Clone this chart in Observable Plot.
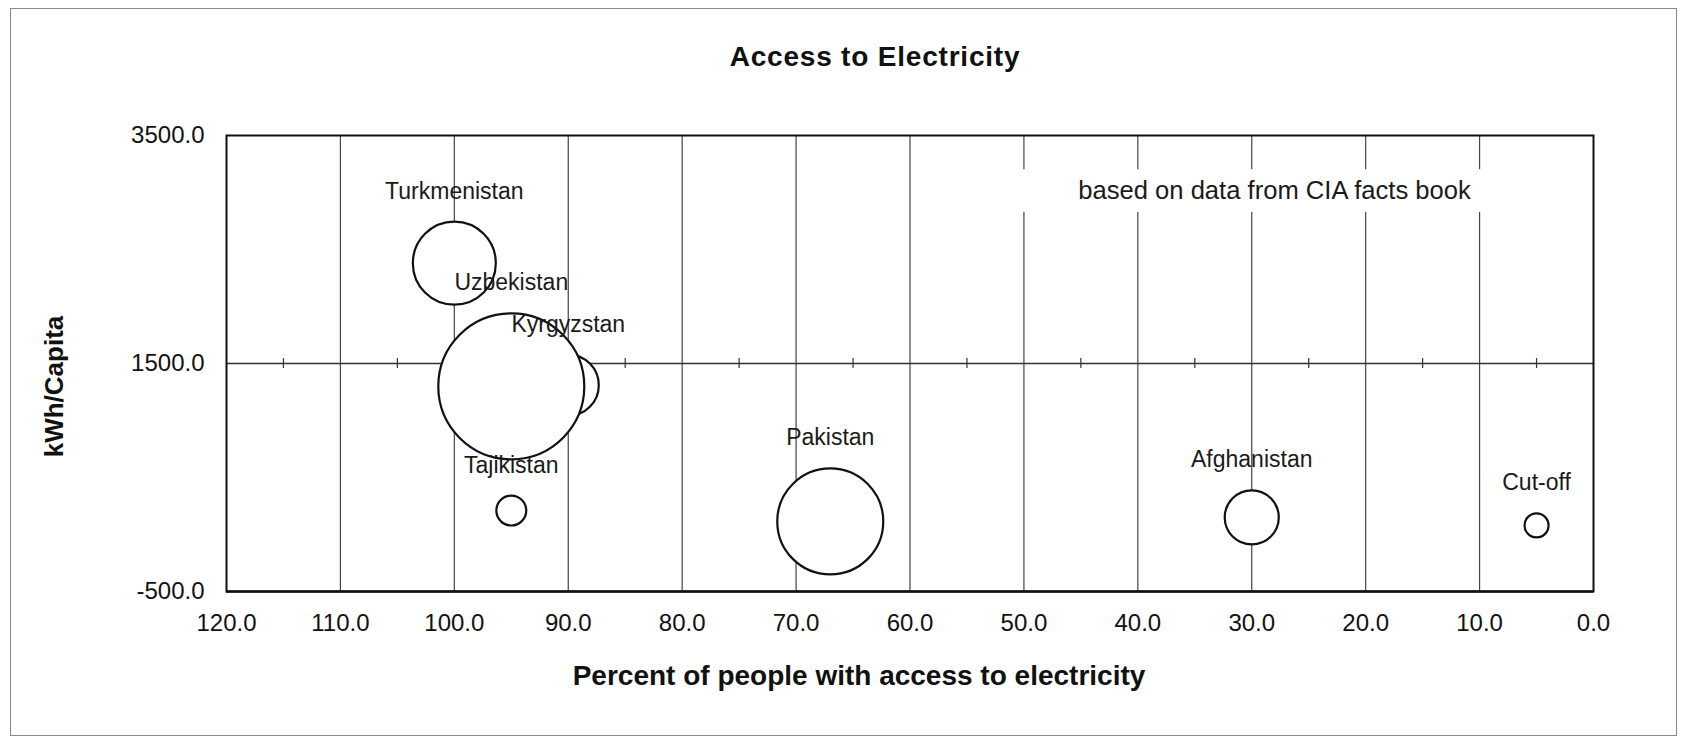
<!DOCTYPE html>
<html><head><meta charset="utf-8">
<script src="https://cdn.jsdelivr.net/npm/d3@7"></script>
<script src="https://cdn.jsdelivr.net/npm/@observablehq/plot@0.6"></script>
<style>
html,body{margin:0;padding:0;background:#fff;}
#wrap{position:relative;width:1690px;height:737px;overflow:hidden;font-family:"Liberation Sans",Arial,sans-serif;}
#title{height:100px;box-sizing:border-box;padding-top:43px;padding-left:60px;text-align:center;font-weight:bold;font-size:28px;line-height:28px;letter-spacing:0.8px;color:#111;}
#border{position:absolute;left:10px;top:8px;width:1665px;height:726px;border:1.5px solid #8a8a8a;pointer-events:none;}
</style></head><body>
<div id="wrap"><div id="title">Access to Electricity</div><div id="chart"></div><div id="border"></div></div>
<script>
// ---- data ----
const countries  = ["Turkmenistan", "Kyrgyzstan", "Uzbekistan", "Tajikistan", "Pakistan", "Afghanistan", "Cut-off"];
const access     = [100, 90, 95, 95, 67, 30, 5];          // % of people with access
const kwhPerCap  = [2380, 1310, 1300, 210, 115, 150, 80]; // kWh / capita
const bubbleSize = [32.3, 17.5, 100, 4.2, 52.7, 13.7, 2.7];

const xTicks = [120, 110, 100, 90, 80, 70, 60, 50, 40, 30, 20, 10, 0];
const yTicks = [-500, 1500, 3500];
const gridX  = [110, 100, 90, 80, 70, 60, 50, 40, 30, 20, 10];
const minorX = [115, 105, 95, 85, 75, 65, 55, 45, 35, 25, 15, 5];

const titleText = "Access to Electricity";
const xTitle = "Percent of people with access to electricity";
const yTitle = "kWh/Capita";
const note   = "based on data from CIA facts book";

const data = countries.map((name, i) => ({name, access: access[i], kwh: kwhPerCap[i], size: bubbleSize[i]}));
const rMax = 73;
const rFallback = d3.scaleSqrt().domain([0, d3.max(bubbleSize)]).range([0, rMax]);
const fmt = d => d.toFixed(1);

const chart = Plot.plot({
  width: 1690, height: 637,
  marginLeft: 226, marginRight: 97, marginTop: 35, marginBottom: 146,
  x: {domain: [120, 0]},
  y: {domain: [-500, 3500]},
  r: {type: "sqrt", domain: [0, d3.max(bubbleSize)], range: [0, rMax]},
  style: {fontFamily: "'Liberation Sans', Arial, sans-serif", color: "#111", background: "#fff", overflow: "visible"},
  marks: [
    Plot.ruleX(gridX, {stroke: "#444", strokeWidth: 1.2}),
    Plot.rect([0], {x1: 51.6, x2: 8.2, y1: 2826, y2: 3200, fill: "white"}),
    Plot.ruleY([1500], {stroke: "#333", strokeWidth: 1.3}),
    Plot.ruleX(minorX, {y1: 1500, y2: 1500, insetTop: -5, insetBottom: -5, stroke: "#333", strokeWidth: 1.2}),
    Plot.dot(data, {x: "access", y: "kwh", r: "size", fill: "white", stroke: "#111", strokeWidth: 2.2, sort: null}),
    Plot.text(data, {
      x: "access", y: "kwh", text: "name", fontSize: 23, fill: "#1a1a1a", lineAnchor: "bottom",
      render(index, scales, values, dimensions, context, next) {
        const rs = scales.r || rFallback;
        const Y = Float64Array.from(values.y, (v, i) => v - rs(bubbleSize[i]) - 23);
        return next(index, scales, {...values, y: Y}, dimensions, context);
      }
    }),
    Plot.text([note], {x: 28, y: 2945, text: d => d, fontSize: 25.6, fill: "#1a1a1a", lineAnchor: "bottom"}),
    Plot.frame({stroke: "#111", strokeWidth: 2}),
    Plot.ruleY([-500], {stroke: "#111", strokeWidth: 2.6}),
    Plot.axisX(xTicks, {tickFormat: fmt, tickSize: 0, tickPadding: 22, fontSize: 24, label: null}),
    Plot.axisY(yTicks, {tickFormat: fmt, tickSize: 0, tickPadding: 22, fontSize: 24, label: null}),
    Plot.text([xTitle], {frameAnchor: "bottom", text: d => d, dx: -51, dy: 85, fontSize: 28, fontWeight: "bold", textAnchor: "middle", lineAnchor: "middle"}),
    Plot.text([yTitle], {frameAnchor: "left", text: d => d, rotate: -90, dx: -172, dy: 23, fontSize: 26, fontWeight: "bold", textAnchor: "middle", lineAnchor: "middle"})
  ]
});
document.getElementById("chart").appendChild(chart);
</script>
</body></html>
